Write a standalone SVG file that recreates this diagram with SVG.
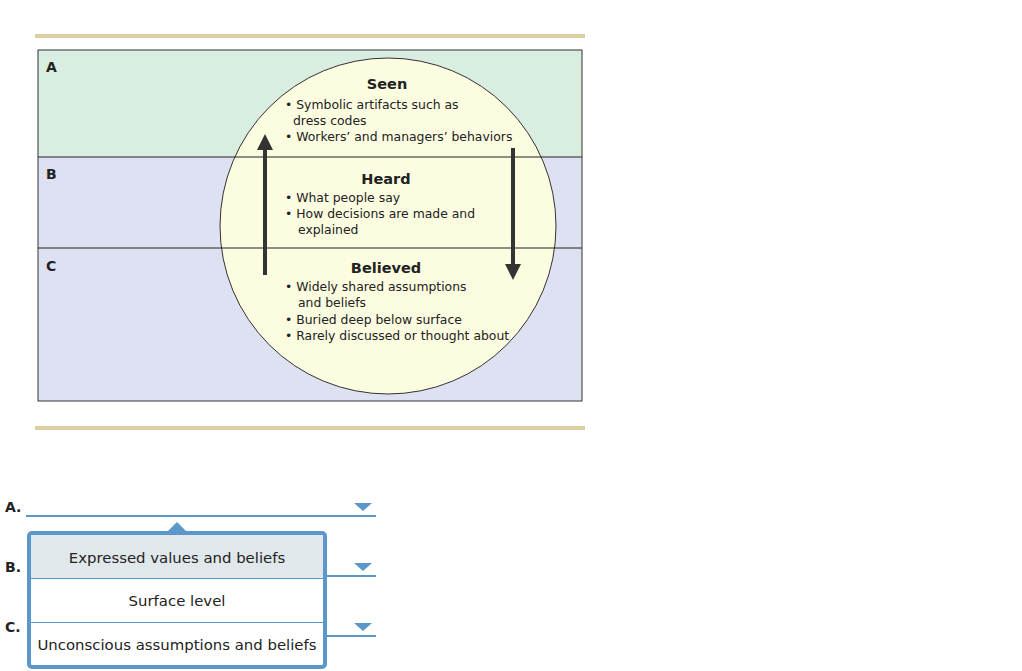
<svg xmlns="http://www.w3.org/2000/svg" width="1022" height="671" viewBox="0 0 1022 671">
<style>
text{font-family:Verdana,"DejaVu Sans",sans-serif;fill:#222}
.t{font-size:12.4px}
.h{font-size:14.5px;font-weight:bold;text-anchor:middle}
.l{font-size:14px;font-weight:bold}
.o{font-size:14.9px;text-anchor:middle}
.ln{stroke:#222;stroke-width:1}
.u{stroke:#5b97c8;stroke-width:2}
</style>
<defs><clipPath id="c"><rect x="38" y="50" width="544" height="351"/></clipPath></defs>
<rect width="1022" height="671" fill="#fff"/>
<rect x="35" y="34" width="550" height="4" fill="#dcd0a2"/>
<rect x="35" y="426" width="550" height="4" fill="#dcd0a2"/>
<g id="bands">
<rect x="38" y="50" width="544" height="107" fill="#d9ede0"/>
<rect x="38" y="157" width="544" height="244" fill="#dde1f1"/>
</g>
<g id="circle" clip-path="url(#c)"><circle cx="388" cy="226" r="168" fill="#fcfce0" stroke="#333" stroke-width="1"/></g>
<line class="ln" x1="38" y1="157" x2="582" y2="157"/>
<line class="ln" x1="38" y1="248" x2="582" y2="248"/>
<rect x="38" y="50" width="544" height="351" fill="none" stroke="#333"/>
<text class="l" x="46" y="72">A</text>
<text class="l" x="46" y="179">B</text>
<text class="l" x="46" y="271">C</text>
<g id="connectors">
<line x1="265" y1="275" x2="265" y2="148" stroke="#333" stroke-width="4"/>
<polygon points="257,150 265,134 273,150" fill="#333"/>
<line x1="513" y1="148" x2="513" y2="266" stroke="#333" stroke-width="4"/>
<polygon points="505,264 513,280 521,264" fill="#333"/>
</g>
<g id="seen"><text class="h" x="387" y="89">Seen</text>
<text class="t" x="285" y="109">• Symbolic artifacts such as</text>
<text class="t" x="293" y="125">dress codes</text>
<text class="t" x="285" y="141">• Workers’ and managers’ behaviors</text></g>
<g id="heard"><text class="h" x="386" y="184">Heard</text>
<text class="t" x="285" y="202">• What people say</text>
<text class="t" x="285" y="218">• How decisions are made and</text>
<text class="t" x="298" y="234">explained</text></g>
<g id="believed"><text class="h" x="386" y="273">Believed</text>
<text class="t" x="285" y="291">• Widely shared assumptions</text>
<text class="t" x="298" y="307">and beliefs</text>
<text class="t" x="285" y="324">• Buried deep below surface</text>
<text class="t" x="285" y="340">• Rarely discussed or thought about</text></g>
<g id="answers">
<text class="l" x="5" y="512">A.</text>
<text class="l" x="5" y="572">B.</text>
<text class="l" x="5" y="632">C.</text>
<line class="u" x1="26" y1="516" x2="376" y2="516"/>
<line class="u" x1="326" y1="576" x2="376" y2="576"/>
<line class="u" x1="326" y1="636" x2="376" y2="636"/>
<polygon points="354,503 372,503 363,511" fill="#5b97c8"/>
<polygon points="354,563 372,563 363,571" fill="#5b97c8"/>
<polygon points="354,623 372,623 363,631" fill="#5b97c8"/>
</g>
<g id="dropdown">
<polygon points="168,531 177,522 186,531" fill="#5b97c8"/>
<rect x="29" y="533" width="296" height="134" rx="3" fill="#fff" stroke="#5b97c8" stroke-width="4"/>
<rect x="31" y="535" width="292" height="43" fill="#e1e8ec"/>
<line x1="31" y1="578.5" x2="323" y2="578.5" stroke="#5b97c8"/>
<line x1="31" y1="622.5" x2="323" y2="622.5" stroke="#5b97c8"/>
<text class="o" x="177" y="563">Expressed values and beliefs</text>
<text class="o" x="177" y="606">Surface level</text>
<text class="o" x="177" y="650">Unconscious assumptions and beliefs</text>
</g>
</svg>
